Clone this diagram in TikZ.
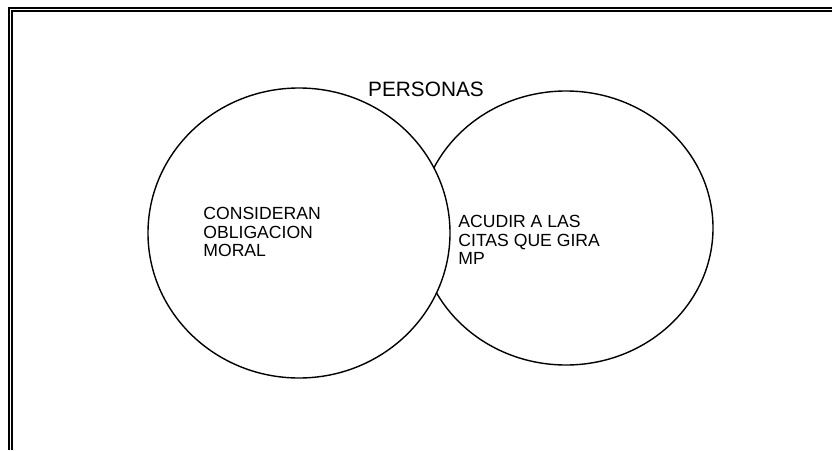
\documentclass[tikz,border=0pt]{standalone}
\usepackage{fontspec}
\setmainfont{Liberation Sans}
\usetikzlibrary{shapes.geometric}

\begin{document}
\begin{tikzpicture}[x=1pt, y=-1pt, thick,
    conjunto/.style={draw, line width=1.4pt},
    rotulo/.style={inner sep=0pt, align=left, font=\fontsize{17.6}{18.6}\selectfont}]
    \useasboundingbox (0,0) rectangle (832,450);
    % marco doble
    \coordinate (P1) at (9,450);
    \coordinate (P2) at (9,8);
    \coordinate (P3) at (832,8);
    \coordinate (Q1) at (12,450);
    \coordinate (Q2) at (12,11);
    \coordinate (Q3) at (832,11);
    \draw[line width=2pt] (P1) -- (P2) -- (P3);
    \draw[line width=1.3pt] (Q1) -- (Q2) -- (Q3);
    % conjuntos
    \coordinate (Cder) at (566,228);
    \coordinate (Cizq) at (299,233);
    \draw[conjunto] (Cder) ellipse [x radius=147, y radius=137];
    \filldraw[conjunto, fill=white] (Cizq) ellipse [x radius=151, y radius=145];
    % textos
    \node[anchor=base, inner sep=0pt, font=\fontsize{20.8}{22}\selectfont] (personas) at (426,96) {PERSONAS};
    \node[rotulo, anchor=north west] (moral) at (203,207) {CONSIDERAN\\OBLIGACION\\MORAL};
    \node[rotulo, anchor=north west] (citas) at (458,215) {ACUDIR A LAS\\CITAS QUE GIRA\\MP};
\end{tikzpicture}
\end{document}
